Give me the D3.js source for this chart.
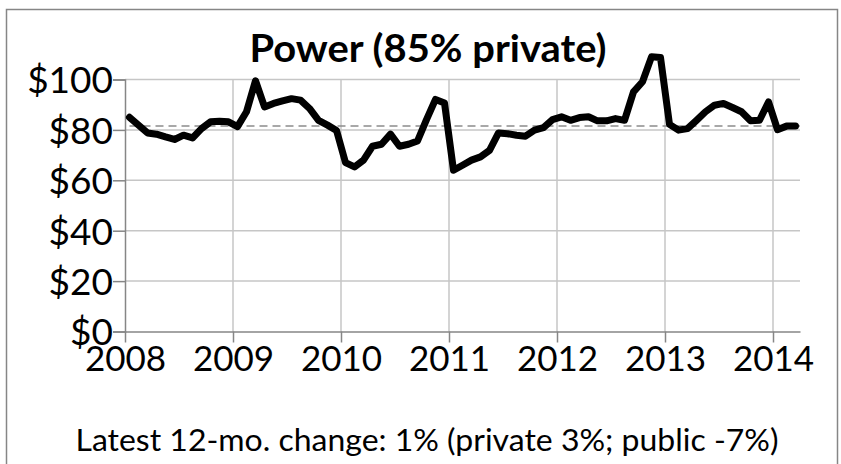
<!DOCTYPE html>
<html>
<head>
<meta charset="utf-8">
<script src="https://cdn.jsdelivr.net/npm/d3@7"></script>
<style>
  html, body { margin: 0; padding: 0; background: #fff; }
  svg { display: block; }
  text { font-family: Lato, "Open Sans", sans-serif; fill: #000; }
</style>
</head>
<body>
<svg id="chart" width="841" height="464"></svg>
<script>
// Monthly index, Jan 2008 through Mar 2014
const values = [
  85.0, 81.9, 78.8, 78.3, 77.2, 76.2, 77.9, 76.8, 80.5, 83.2, 83.4, 83.2,
  81.3, 87.2, 99.5, 89.1, 90.5, 91.5, 92.4, 91.8, 88.5, 83.8, 81.9, 79.8,
  67.0, 65.3, 68.0, 73.5, 74.3, 78.3, 73.5, 74.3, 75.6, 84.1, 92.1, 90.7,
  64.0, 66.0, 68.0, 69.3, 71.9, 78.8, 78.5, 77.9, 77.5, 79.9, 80.9, 84.1,
  85.2, 83.8, 84.9, 85.2, 83.6, 83.6, 84.5, 83.8, 95.1, 99.1, 109.0, 108.7,
  82.2, 79.9, 80.5, 83.8, 87.2, 89.8, 90.5, 88.9, 87.2, 83.6, 83.8, 91.1,
  80.1, 81.5, 81.5
];
const yearLabels = ["2008", "2009", "2010", "2011", "2012", "2013", "2014"];
const yTicks = [0, 20, 40, 60, 80, 100];
const averageLevel = 81.5;
const titleText = "Power (85% private)";
const footerText = "Latest 12-mo. change: 1% (private 3%; public -7%)";

const svg = d3.select("#chart");
const plot = { left: 125, right: 800, top: 79.5, bottom: 331.5 };

const x = d3.scaleLinear().domain([0, values.length]).range([plot.left, plot.right]);
const y = d3.scaleLinear().domain([0, 100]).range([plot.bottom, plot.top]);

// outer frame
svg.append("rect")
  .attr("x", 6.5).attr("y", 9.5).attr("width", 831).attr("height", 470)
  .attr("fill", "none").attr("stroke", "#868686").attr("stroke-width", 1.5);

// horizontal gridlines
svg.append("g").selectAll("line").data(yTicks.filter(d => d > 0)).join("line")
  .attr("x1", plot.left).attr("x2", plot.right)
  .attr("y1", d => y(d)).attr("y2", d => y(d))
  .attr("stroke", "#c6c6c6").attr("stroke-width", 1.5);

// vertical gridlines at each January
const yearIdx = yearLabels.map((_, i) => i * 12);
svg.append("g").selectAll("line").data(yearIdx.filter(d => d > 0)).join("line")
  .attr("x1", d => x(d)).attr("x2", d => x(d))
  .attr("y1", plot.top).attr("y2", plot.bottom)
  .attr("stroke", "#c6c6c6").attr("stroke-width", 1.5);

// y axis
const yAxis = svg.append("g").attr("transform", `translate(${plot.left},0)`)
  .call(d3.axisLeft(y).tickValues(yTicks).tickSize(12).tickPadding(0).tickFormat(d => "$" + d));
yAxis.select(".domain").attr("stroke", "#868686").attr("stroke-width", 1.5);
yAxis.selectAll(".tick line").attr("stroke", "#868686").attr("stroke-width", 1.5);
yAxis.selectAll(".tick text")
  .attr("x", -12).attr("dy", "0.36em")
  .style("font-size", "37px").attr("text-anchor", "end");

// x axis
const xAxis = svg.append("g").attr("transform", `translate(0,${plot.bottom})`)
  .call(d3.axisBottom(x).tickValues(yearIdx).tickSize(11).tickSizeOuter(0).tickPadding(0)
    .tickFormat((d, i) => yearLabels[i]));
xAxis.select(".domain").attr("stroke", "#868686").attr("stroke-width", 1.5);
xAxis.selectAll(".tick line").attr("stroke", "#868686").attr("stroke-width", 1.5);
xAxis.selectAll(".tick text")
  .attr("y", 39).attr("dy", 0)
  .style("font-size", "35px");

// average reference line
svg.append("line")
  .attr("x1", x(0.5)).attr("x2", plot.right)
  .attr("y1", y(averageLevel)).attr("y2", y(averageLevel))
  .attr("stroke", "#8c8c8c").attr("stroke-width", 1.5)
  .attr("stroke-dasharray", "8,5");

// series line
const line = d3.line().x((d, i) => x(i + 0.5)).y(d => y(d));
svg.append("path").datum(values)
  .attr("d", line)
  .attr("fill", "none").attr("stroke", "#000")
  .attr("stroke-width", 7).attr("stroke-linejoin", "round").attr("stroke-linecap", "round");

// title
svg.append("text")
  .attr("x", 428).attr("y", 62).attr("text-anchor", "middle")
  .style("font-size", "38px").style("font-weight", "bold")
  .attr("textLength", 357).attr("lengthAdjust", "spacingAndGlyphs")
  .text(titleText);

// footer
svg.append("text")
  .attr("x", 427).attr("y", 451).attr("text-anchor", "middle")
  .style("font-size", "31px")
  .attr("textLength", 703).attr("lengthAdjust", "spacingAndGlyphs")
  .text(footerText);
</script>
</body>
</html>
